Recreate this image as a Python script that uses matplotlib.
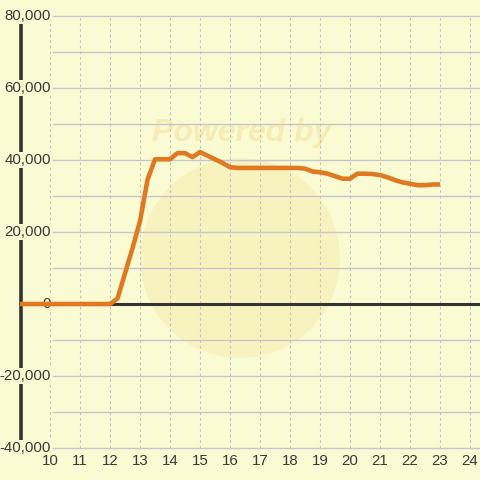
import matplotlib
matplotlib.use("Agg")
import matplotlib.pyplot as plt
from matplotlib.patches import Ellipse

plt.rcParams['font.family'] = ['Liberation Sans', 'DejaVu Sans']

# ---- data ----
hours = [9.0, 9.25, 9.5, 9.75, 10.0, 10.25, 10.5, 10.75, 11.0, 11.25, 11.5, 11.75,
         12.0, 12.25, 12.5, 12.75, 13.0, 13.25, 13.5, 13.75, 14.0, 14.25, 14.5, 14.75,
         15.0, 15.25, 15.5, 15.75, 16.0, 16.25, 16.5, 16.75, 17.0, 17.25, 17.5, 17.75,
         18.0, 18.25, 18.5, 18.75, 19.0, 19.25, 19.5, 19.75, 20.0, 20.25, 20.5, 20.75,
         21.0, 21.25, 21.5, 21.75, 22.0, 22.25, 22.5, 22.75, 23.0]
values = [0, 0, 0, 0, 0, 0, 0, 0, 0, 0, 0, 0,
          0, 1500, 8500, 15500, 23000, 34500, 40200, 40200, 40200, 41900, 41900, 40800,
          42200, 41200, 40200, 39200, 38000, 37800, 37800, 37800, 37800, 37800, 37800, 37800,
          37800, 37800, 37600, 36800, 36600, 36200, 35500, 34800, 34800, 36200, 36200, 36100,
          35800, 35200, 34400, 33800, 33400, 33000, 33000, 33200, 33200]
x_ticks = [10, 11, 12, 13, 14, 15, 16, 17, 18, 19, 20, 21, 22, 23, 24]
y_ticks = [-40000, -20000, 0, 20000, 40000, 60000, 80000]
y_grid = [-40000, -30000, -20000, -10000, 0, 10000, 20000, 30000, 40000, 50000, 60000, 70000, 80000]

bg = '#fbfbd3'
fig = plt.figure(figsize=(4.8, 4.8), dpi=100, facecolor=bg)
ax = fig.add_axes([0, 0, 1, 1])
ax.set_facecolor(bg)
ax.set_xlim(8.3333, 24.3333)
ax.set_ylim(-48889, 84444)
ax.axis('off')

# watermark
ax.add_patch(Ellipse((240/480, 1-258/480), 200/480, 200/480, transform=ax.transAxes,
                     facecolor='#f8f0b8', edgecolor='none', alpha=0.75, zorder=0))
ax.text(242/480, 1-133/480, 'Powered by', transform=ax.transAxes, ha='center', va='center',
        fontsize=23, fontweight='bold', style='italic', color='#f5edb4', zorder=0.5)

# grid
for g in y_grid:
    ax.plot([10.1, 24.3333], [g, g], color='#c6c6cc', lw=1.0, zorder=1)
for t in x_ticks:
    ax.plot([t, t], [-40000, 80000], color='#c4c4c8', lw=0.8, ls=(0, (2.5, 2.5)), zorder=1)

# axes lines
ax.plot([9.033, 9.033], [-40000, 80000], color='#333333', lw=2.6, zorder=2, solid_capstyle='butt')
ax.plot([9.033, 24.3333], [0, 0], color='#333333', lw=2.2, zorder=2, solid_capstyle='butt')

# y tick labels
for t in y_ticks:
    ax.text(10.03, t, f'{t:,}', ha='right', va='center', fontsize=10.8, color='#3a3a3a',
            zorder=3, bbox=dict(facecolor=bg, edgecolor='none', pad=1.0))
# x tick labels
for t in x_ticks:
    ax.text(t, -43700, str(t), ha='center', va='center', fontsize=10.8, color='#3a3a3a', zorder=3)

# series
ax.plot(hours, values, color='#e07a22', lw=3.3, zorder=4, solid_joinstyle='round', solid_capstyle='butt')

fig.savefig('out.png', dpi=100, facecolor=bg)
